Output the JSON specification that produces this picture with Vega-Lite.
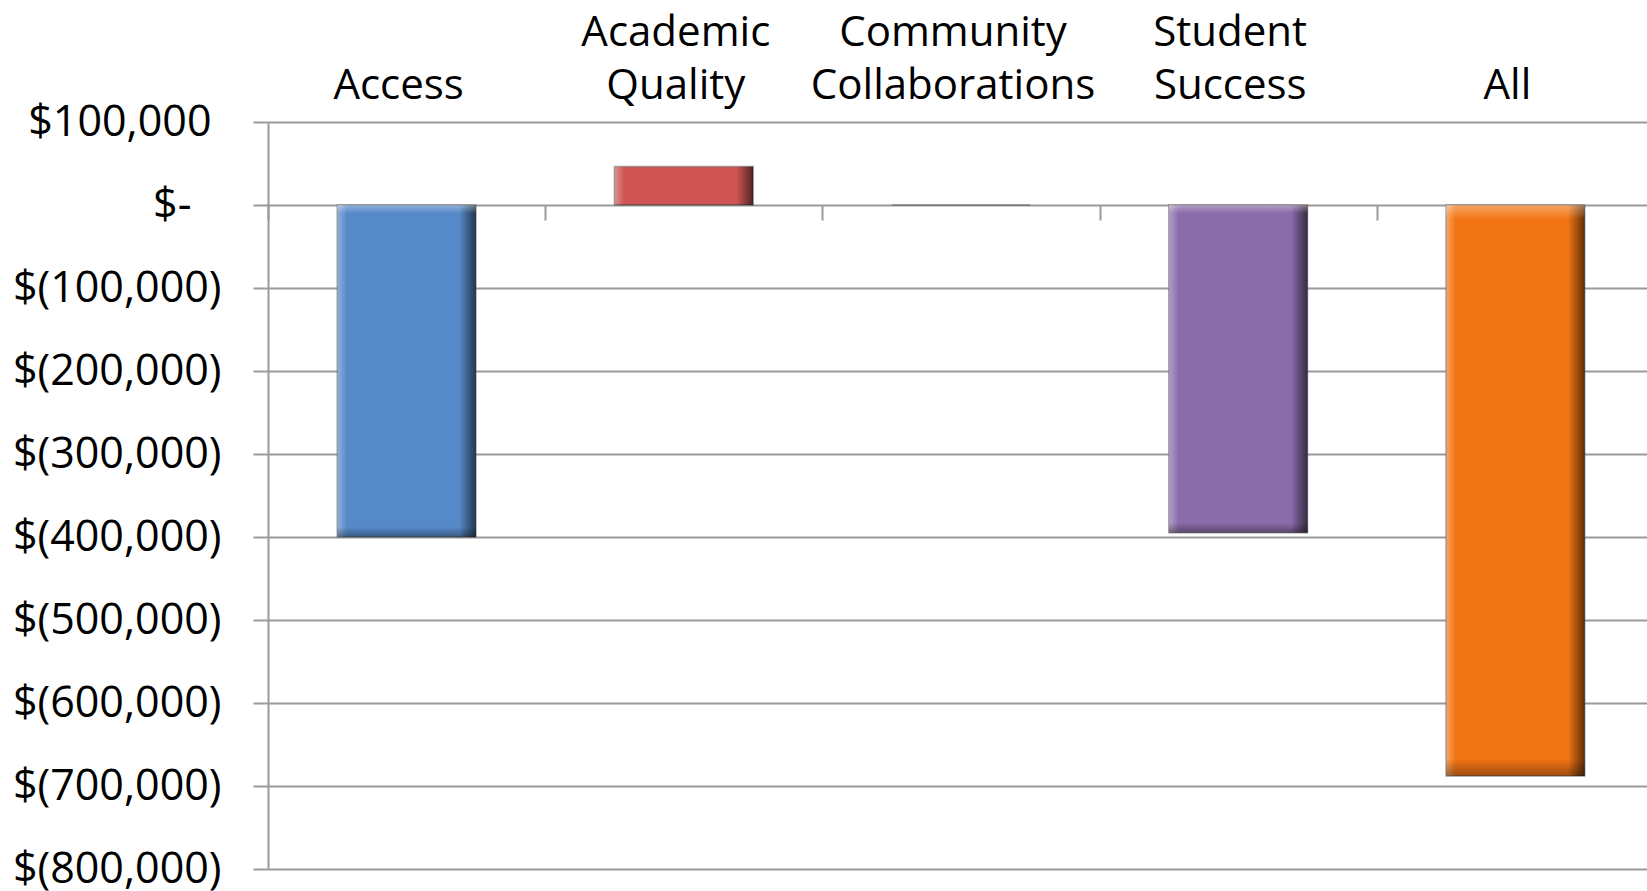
{
  "$schema": "https://vega.github.io/schema/vega-lite/v6.json",
  "autosize": "none",
  "width": 1379,
  "height": 747,
  "padding": {"left": 268, "top": 122, "right": 0, "bottom": 22},
  "background": "white",
  "config": {"view": {"stroke": null}, "font": "Open Sans"},
  "data": {
    "values": [
      {"category": "Access", "value": -400000},
      {"category": "Academic Quality", "value": 46500},
      {"category": "Community Collaborations", "value": 0},
      {"category": "Student Success", "value": -395000},
      {"category": "All", "value": -688000}
    ]
  },
  "encoding": {
    "x": {
      "field": "category",
      "type": "nominal",
      "sort": null,
      "scale": {"range": [0, 1386], "paddingInner": 0, "paddingOuter": 0}
    },
    "y": {
      "field": "value",
      "type": "quantitative",
      "scale": {"domain": [-800000, 100000], "nice": false},
      "axis": {
        "title": null,
        "values": [100000, 0, -100000, -200000, -300000, -400000, -500000, -600000, -700000, -800000],
        "labelExpr": "datum.value == 0 ? '$-' : (datum.value < 0 ? '$(' + format(-datum.value, ',') + ')' : '$' + format(datum.value, ','))",
        "labelFont": "Open Sans",
        "labelFontSize": 43,
        "labelColor": "black",
        "labelPadding": {"condition": [{"test": "datum.value == 0", "value": 62}, {"test": "datum.value > 0", "value": 42}], "value": 32},
        "labelLimit": 0,
        "labelOverlap": false,
        "labelFlush": false,
        "tickSize": 15,
        "tickColor": "#9a9a9a",
        "tickWidth": 2,
        "grid": true,
        "gridColor": "#9a9a9a",
        "gridWidth": 2,
        "domainColor": "#9a9a9a",
        "domainWidth": 2
      }
    }
  },
  "layer": [
    {
      "mark": {"type": "bar", "width": {"band": 0.5}, "stroke": "#5a5a5a", "strokeWidth": 1.5, "strokeOpacity": 0.6},
      "encoding": {
        "x": {
          "field": "category",
          "type": "nominal",
          "sort": null,
          "axis": {
            "orient": "top",
            "title": null,
            "domain": false,
            "ticks": false,
            "tickSize": 0,
            "grid": false,
            "labelPadding": 68,
            "labelFont": "Open Sans",
            "labelFontSize": 42,
            "labelColor": "black",
            "labelAngle": 0,
            "labelLimit": 0,
            "labelOverlap": false,
            "labelLineHeight": 53,
            "labelOffset": -8,
            "labelExpr": "indexof(datum.label, ' ') < 0 ? ['', datum.label] : split(datum.label, ' ')"
          }
        },
        "color": {
          "field": "category",
          "type": "nominal",
          "scale": {
            "domain": ["Access", "Academic Quality", "Community Collaborations", "Student Success", "All"],
            "range": ["#5689C8", "#CF5555", "#9BBB59", "#8A6CAA", "#F27513"]
          },
          "legend": null
        }
      }
    },
    {
      "mark": {
        "type": "bar",
        "width": {"band": 0.5},
        "fill": {
          "gradient": "linear",
          "x1": 0, "y1": 0, "x2": 1, "y2": 0,
          "stops": [
            {"offset": 0, "color": "rgba(255,255,255,0.35)"},
            {"offset": 0.07, "color": "rgba(255,255,255,0)"},
            {"offset": 0.88, "color": "rgba(0,0,0,0)"},
            {"offset": 1, "color": "rgba(0,0,0,0.6)"}
          ]
        }
      },
      "encoding": {
        "x": {
          "field": "category",
          "type": "nominal",
          "sort": null,
          "axis": {
            "orient": "bottom",
            "offset": -664,
            "title": null,
            "labels": false,
            "domain": false,
            "grid": false,
            "ticks": true,
            "tickSize": 15,
            "tickColor": "#9a9a9a",
            "tickWidth": 2,
            "tickBand": "extent"
          }
        }
      }
    },
    {
      "mark": {
        "type": "bar",
        "width": {"band": 0.5},
        "fill": {
          "gradient": "linear",
          "x1": 0, "y1": 0, "x2": 0, "y2": 1,
          "stops": [
            {"offset": 0, "color": "rgba(255,255,255,0.35)"},
            {"offset": 0.025, "color": "rgba(255,255,255,0)"},
            {"offset": 0.97, "color": "rgba(0,0,0,0)"},
            {"offset": 1, "color": "rgba(0,0,0,0.35)"}
          ]
        }
      },
      "encoding": {
        "x": {"field": "category", "type": "nominal", "sort": null, "axis": null}
      }
    }
  ],
  "resolve": {"axis": {"x": "independent"}}
}
